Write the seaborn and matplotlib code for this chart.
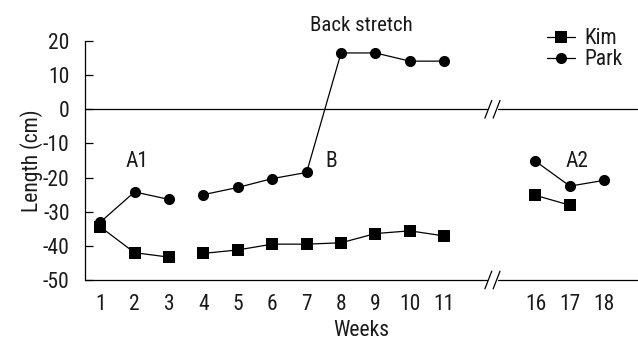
import matplotlib
matplotlib.use("Agg")
import matplotlib.pyplot as plt
from matplotlib.lines import Line2D
import seaborn as sns
import pandas as pd

# ---- data ----
weeks_kim = [1, 2, 3, 4, 5, 6, 7, 8, 9, 10, 11, 16, 17]
kim = [-34.4, -42.0, -43.3, -42.2, -41.2, -39.5, -39.5, -39.1, -36.4, -35.6, -37.1, -25.2, -28.1]
seg_kim = ["A1", "A1", "A1", "B", "B", "B", "B", "B", "B", "B", "B", "A2", "A2"]

weeks_park = [1, 2, 3, 4, 5, 6, 7, 8, 9, 10, 11, 16, 17, 18]
park = [-33.1, -24.2, -26.4, -25.0, -22.9, -20.3, -18.5, 16.5, 16.5, 14.1, 14.1, -15.2, -22.5, -20.8]
seg_park = ["A1", "A1", "A1", "B", "B", "B", "B", "B", "B", "B", "B", "A2", "A2", "A2"]

tick_weeks = [1, 2, 3, 4, 5, 6, 7, 8, 9, 10, 11, 16, 17, 18]
y_ticks = [20, 10, 0, -10, -20, -30, -40, -50]
phase_labels = ["A1", "B", "A2"]

# ---- axis break mapping ----
BREAK_SHIFT = 2.35
def pos(w):
    return w if w <= 11 else w - BREAK_SHIFT

df = pd.DataFrame({
    "week": weeks_kim + weeks_park,
    "length": kim + park,
    "person": ["Kim"] * len(kim) + ["Park"] * len(park),
    "seg": seg_kim + seg_park,
})
df["pos"] = df["week"].apply(pos)
df["unit"] = df["person"] + "_" + df["seg"]

sns.set_theme(style="white")
plt.rcParams["font.family"] = ["Roboto Condensed", "DejaVu Sans"]
FS = 15.5
TC = "#1a1a1a"

fig = plt.figure(figsize=(6.38, 3.40), dpi=100)
ax = fig.add_axes([85 / 638, 60 / 340, 552 / 638, 239 / 340])

sns.lineplot(data=df, x="pos", y="length", style="person", units="unit",
             estimator=None, markers={"Kim": "s", "Park": "o"}, dashes=False,
             color="black", linewidth=0.9, markeredgewidth=0, legend=False, ax=ax,
             sort=True)
for line in ax.get_lines():
    if line.get_marker() == "s":
        line.set_markersize(9)
    elif line.get_marker() == "o":
        line.set_markersize(8)

xmin, xmax = 0.56, 16.6
ax.set_xlim(xmin, xmax)
ax.set_ylim(-50, 20)

brk = 12.4
gap = 0.15
for yv in (0, -50):
    ax.plot([xmin, brk - gap], [yv, yv], color="black", lw=0.9, clip_on=False, zorder=1)
    ax.plot([brk + gap, xmax], [yv, yv], color="black", lw=0.9, clip_on=False, zorder=1)
    for dx in (-0.12, 0.12):
        ax.plot([brk + dx - 0.1, brk + dx + 0.1], [yv - 2.6, yv + 2.6],
                color="black", lw=0.9, clip_on=False, zorder=1)

for s in ["top", "right", "bottom"]:
    ax.spines[s].set_visible(False)
ax.spines["left"].set_color("black")
ax.spines["left"].set_linewidth(0.9)

ax.set_xticks([pos(w) for w in tick_weeks])
ax.set_xticklabels([str(w) for w in tick_weeks])
ax.set_yticks(y_ticks)
ax.set_yticklabels([str(v) for v in y_ticks])
ax.tick_params(axis="y", direction="in", length=6, width=0.9, color="black",
               labelsize=FS, pad=11, left=True, labelcolor=TC)
ax.tick_params(axis="x", length=0, labelsize=FS, pad=10, labelcolor=TC)

ax.set_xlabel("Weeks", fontsize=FS, labelpad=4, color=TC)
ax.set_ylabel("Length (cm)", fontsize=FS, labelpad=0, color=TC)
ax.set_title("Back stretch", fontsize=FS - 0.5, pad=7, color=TC)

# phase labels
ax.text(2.06, -15.2, phase_labels[0], fontsize=FS, ha="center", va="center", color=TC)
ax.text(7.71, -15.2, phase_labels[1], fontsize=FS, ha="center", va="center", color=TC)
ax.text(14.86, -15.2, phase_labels[2], fontsize=FS, ha="center", va="center", color=TC)

handles = [Line2D([0], [0], color="black", lw=0.9, marker="s", markersize=9, markeredgewidth=0),
           Line2D([0], [0], color="black", lw=0.9, marker="o", markersize=8, markeredgewidth=0)]
leg = ax.legend(handles, ["Kim", "Park"], loc="upper right", bbox_to_anchor=(0.99, 1.09),
                frameon=False, fontsize=FS, handlelength=1.3, handletextpad=0.45,
                labelspacing=0.0, borderaxespad=0)
for t in leg.get_texts():
    t.set_color(TC)

fig.savefig("out.png", dpi=100)
